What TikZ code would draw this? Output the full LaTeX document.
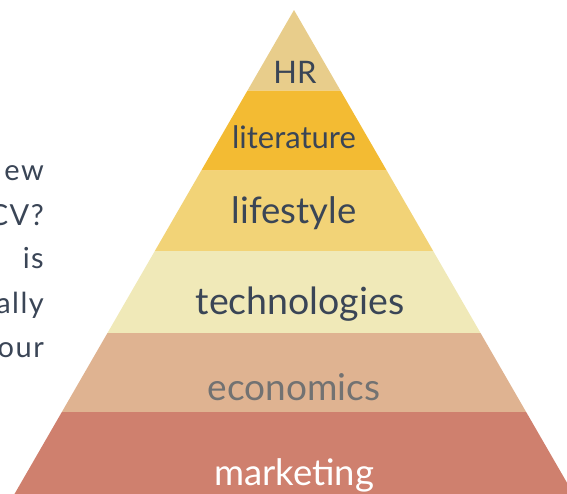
\documentclass[tikz,border=0pt]{standalone}
\usepackage{fontspec}
\setmainfont{Lato}
\definecolor{cHR}{HTML}{E8CD8B}
\definecolor{cLit}{HTML}{F3BB33}
\definecolor{cLife}{HTML}{F2D377}
\definecolor{cTech}{HTML}{F0E9B8}
\definecolor{cEco}{HTML}{DFB391}
\definecolor{cMkt}{HTML}{CF806E}
\definecolor{txt}{HTML}{3A4556}
\definecolor{ecotxt}{HTML}{727272}
\begin{document}
\begin{tikzpicture}[x=1pt,y=-1pt,
  lbl/.style={anchor=base,inner sep=0pt,text=txt},
  side/.style={anchor=base east,inner sep=0pt,text=txt,font=\fontsize{29}{29}\selectfont\addfontfeature{LetterSpace=5}}]
\useasboundingbox (0,0) rectangle (567,493);
\clip (0,0) rectangle (567,493);
\def\apx{294}
% layers: y top, y bottom; half width = 0.5775*(y-10)
\foreach \ya/\yb/\c in {10/90.5/cHR, 90.5/170.5/cLit, 170.5/251/cLife, 251/333/cTech, 333/412/cEco, 412/500/cMkt}{
  \fill[\c] ({\apx-0.5775*(\ya-10)},\ya) -- ({\apx+0.5775*(\ya-10)},\ya) -- ({\apx+0.5775*(\yb-10)},\yb) -- ({\apx-0.5775*(\yb-10)},\yb) -- cycle;
}
\node[lbl,font=\fontsize{31}{31}\selectfont] (hr) at (295,83) {HR};
\node[lbl,font=\fontsize{31}{31}\selectfont] (lit) at (294,148) {literature};
\node[lbl,font=\fontsize{36.5}{36.5}\selectfont] (life) at (294,223) {lifestyle};
\node[lbl,font=\fontsize{37.5}{37.5}\selectfont] (tech) at (300,314) {technologies};
\node[lbl,font=\fontsize{37}{37}\selectfont,text=ecotxt] (eco) at (294,400) {economics};
\node[lbl,font=\fontsize{36.5}{36.5}\selectfont,text=white] (mkt) at (294,485) {marketing};
\node[side] (t1) at (44,180) {ew};
\node[side] (t2) at (44,225) {CV?};
\node[side] (t3) at (44,268) {is};
\node[side] (t4) at (44,313) {ally};
\node[side] (t5) at (44,357) {our};
\end{tikzpicture}
\end{document}
